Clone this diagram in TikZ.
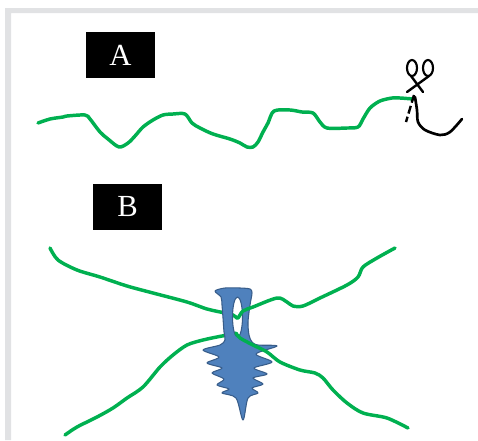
\documentclass[tikz,border=0pt]{standalone}
\usepackage{fontspec}
\setmainfont{Liberation Serif}
\definecolor{threadgreen}{HTML}{00B050}
\definecolor{clipblue}{HTML}{4F81BD}
\definecolor{clipedge}{HTML}{385D8A}
\definecolor{framegray}{HTML}{E1E2E4}
\begin{document}
\begin{tikzpicture}[x=.75pt,y=-.75pt,line join=round,line cap=round,
  thread/.style={threadgreen,line width=2.6pt},
  tag/.style={fill=black,text=white,inner sep=0pt,minimum width=51.75pt,minimum height=34.5pt,font=\fontsize{23}{25}\selectfont}]
\useasboundingbox (0,0) rectangle (478,440);
% page frame
\fill[framegray] (5,8) rectangle (478,13) (5,8) rectangle (11,440);
\node[tag] (labelA) at (120.5,55) {A};
\node[tag] (labelB) at (127.5,206.5) {B};
% A: thread cut with scissors
\draw[thread] plot[smooth,tension=.5] coordinates {(38,123)(50,119)(63,117)(67,116)(85,115)(90,119)(100,132)(108,139)(119,147)(128,143)(135,136)(143,127)(153,120)(163,115)(173,114)(185,114)(192,123)(200,128)(213,134)(230,139)(240,143)(247,147)(253,147)(258,142)(263,132)(268,123)(274,111)(290,110)(302,112)(313,113)(320,122)(327,128)(347,128)(358,127)(363,119)(370,108)(380,101)(392,98)(400,98)(413,99)};
\draw[line width=2pt] plot[smooth,tension=.5] coordinates {(415,97)(417,110)(418,122)(425,130)(440,135)(450,132)(462,119)};
\draw[line width=1.6pt] (412,68) ellipse[x radius=5,y radius=8] (428,68) ellipse[x radius=5,y radius=8];
\draw[line width=1.8pt] (411,76)--(423,92) (429,76)--(407,92);
\draw[line width=1.8pt,dash pattern=on 6pt off 2.5pt,line cap=butt] (414,95)--(406,122);
% B: two threads through the clip
\draw[thread] plot[smooth,tension=.5] coordinates {(50,248)(58,260)(77,270)(100,277)(127,286)(153,293)(187,302)(207,309)(225,313)(233,315)(237,318)};
\draw[thread] plot[smooth,tension=.5] coordinates {(65,435)(77,427)(97,417)(113,408)(127,398)(143,387)(160,367)(173,355)(187,345)(203,340)(222,336)(236,334)};
\filldraw[clipblue,draw=clipedge,line width=.8pt,even odd rule]
  plot[smooth cycle,tension=.5] coordinates {(215,291)(225,288)(240,288)(250,289)(252,293)(250,305)(248,322)(249,335)(252,342)(258,345)(277,346)(256,354)(272,362)(254,368)(267,374)(253,378)(263,384)(252,388)(258,393)(248,398)(243,420)(236,398)(222,393)(229,389)(217,385)(224,379)(212,373)(222,368)(207,363)(219,357)(203,350)(220,345)(225,340)(224,332)(223,318)(222,305)(221,297)}
  (237.5,317) ellipse[x radius=5,y radius=20];
\draw[thread] plot[smooth,tension=.5] coordinates {(236,317)(238,318)(243,311)(253,307)(277,298)(287,302)(293,306)(303,306)(320,298)(347,285)(358,277)(363,267)(377,258)(395,248)};
\draw[thread] plot[smooth,tension=.5] coordinates {(236,333)(240,338)(253,345)(267,352)(280,362)(300,370)(315,373)(323,378)(333,390)(347,403)(363,413)(387,418)(408,428)};
\end{tikzpicture}
\end{document}
